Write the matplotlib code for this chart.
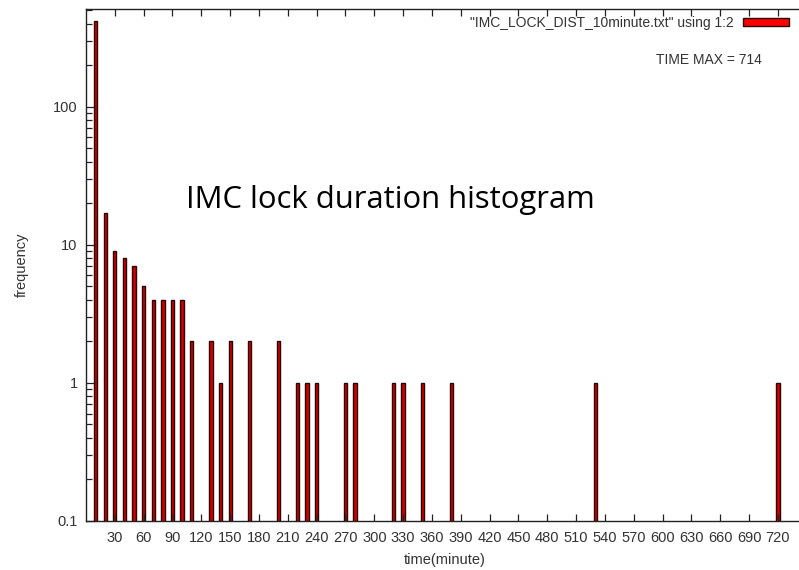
import matplotlib
matplotlib.use("Agg")
import matplotlib.pyplot as plt
from matplotlib.ticker import FixedLocator, LogLocator, NullFormatter, FixedFormatter

# Lock durations, binned in 10-minute steps
time_bins = [10, 20, 30, 40, 50, 60, 70, 80, 90, 100, 110, 130, 140, 150, 170,
             200, 220, 230, 240, 270, 280, 320, 330, 350, 380, 530, 720]
frequency = [420, 17, 9, 8, 7, 5, 4, 4, 4, 4, 2, 2, 1, 2, 2,
             2, 1, 1, 1, 1, 1, 1, 1, 1, 1, 1, 1]
x_ticks = list(range(30, 721, 30))
y_ticks = [0.1, 1, 10, 100]
y_tick_labels = ["0.1", "1", "10", "100"]
series_label = '"IMC_LOCK_DIST_10minute.txt" using 1:2'
time_max = 714

plt.rcParams["font.family"] = ["Liberation Sans", "DejaVu Sans"]
text_col = "#333333"

fig = plt.figure(figsize=(7.99, 5.70), dpi=100)
left_px, right_px = 86, 805
ax = fig.add_axes([left_px / 799, 49 / 570, (right_px - left_px) / 799, 512 / 570])

bars = ax.bar(time_bins, frequency, width=3.4, log=True, color="#d00000",
              edgecolor="#2a0505", linewidth=1.0, label=series_label)

ax.set_yscale("log")
ax.set_ylim(0.1, 510)
ax.set_xlim(0, (right_px - left_px) / 0.961)

ax.xaxis.set_major_locator(FixedLocator(x_ticks))
ax.set_xticklabels([str(t) for t in x_ticks])
ax.yaxis.set_major_locator(FixedLocator(y_ticks))
ax.yaxis.set_major_formatter(FixedFormatter(y_tick_labels))
ax.yaxis.set_minor_locator(LogLocator(base=10, subs=range(2, 10)))
ax.yaxis.set_minor_formatter(NullFormatter())

ax.tick_params(axis="both", which="both", direction="in", top=True, right=False,
               colors="#222222", labelcolor=text_col, labelsize=10.5, width=0.9)
ax.tick_params(axis="y", which="major", length=7, pad=6)
ax.tick_params(axis="y", which="minor", length=4)
ax.tick_params(axis="x", which="major", length=5, pad=7)
for s in ax.spines.values():
    s.set_color("#222222")
    s.set_linewidth(1.0)
ax.spines["right"].set_visible(False)

ax.set_xlabel("time(minute)", fontsize=10.5, color=text_col)
ax.xaxis.set_label_coords((445 - left_px) / (right_px - left_px), -0.063)
ax.set_ylabel("frequency", fontsize=10.5, color=text_col)
ax.yaxis.set_label_coords(-(left_px - 29) / (right_px - left_px), 0.5)

leg = ax.legend(loc="upper right", bbox_to_anchor=(789 / 799, 1 - 16 / 570),
                bbox_transform=fig.transFigure, frameon=False,
                markerfirst=False, fontsize=10, handlelength=3.3,
                handleheight=0.5, handletextpad=0.7, borderaxespad=0,
                borderpad=0)
for t in leg.get_texts():
    t.set_color(text_col)
for h in leg.legend_handles:
    h.set_facecolor("red")

fig.text(762 / 799, 1 - 60 / 570, f"TIME MAX = {time_max}", ha="right",
         va="center", fontsize=10, color=text_col)

fig.text(390 / 799, 1 - 200 / 570, "IMC lock duration histogram",
         ha="center", va="center", fontsize=22.3, color="black",
         family=["Open Sans", "DejaVu Sans"])

fig.savefig("out.png", dpi=100, facecolor="white")
